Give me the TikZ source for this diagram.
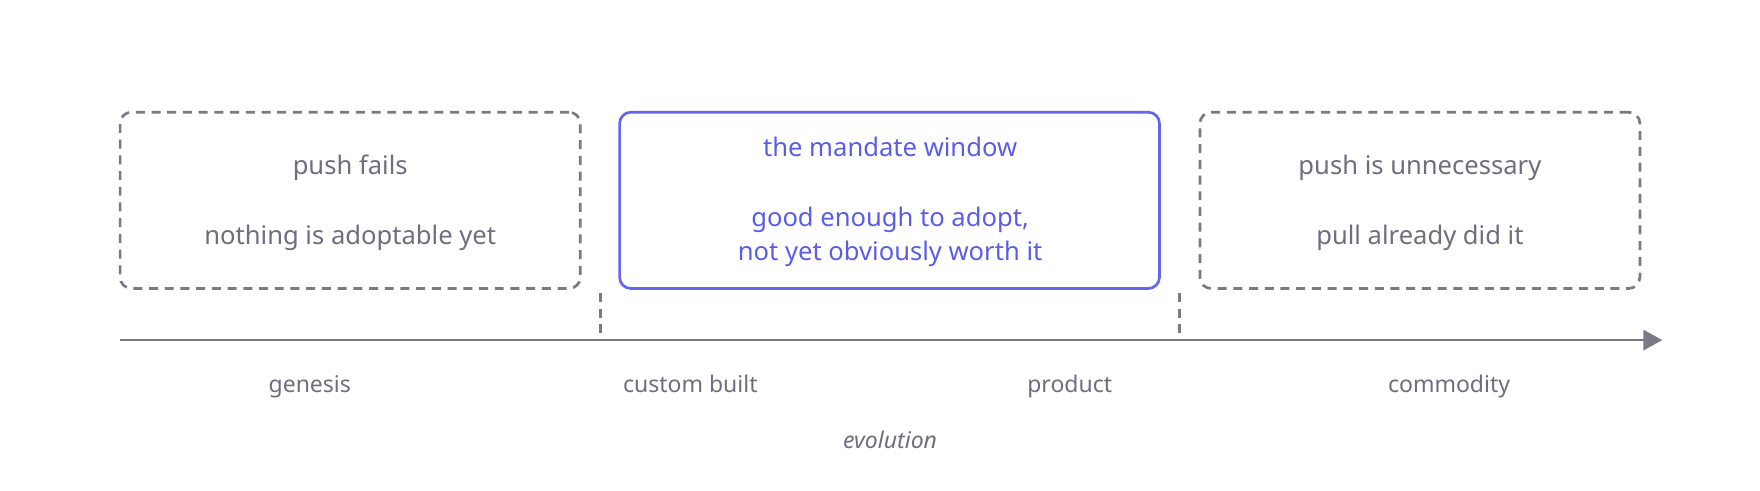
\documentclass[tikz,border=0pt]{standalone}
\usepackage{fontspec}
\setmainfont{Noto Sans}
\usetikzlibrary{arrows.meta}
\definecolor{graytx}{HTML}{6E6E7E}
\definecolor{grayln}{HTML}{7A7A86}
\definecolor{indigo}{HTML}{6366F1}
\definecolor{indigotx}{HTML}{5A5DE8}
\tikzset{
  phasebox/.style={draw=grayln, line width=2.4pt, dash pattern=on 8pt off 6pt, rounded corners=10pt, minimum width=#1, minimum height=157pt, inner sep=0pt},
  windowbox/.style={draw=indigo, line width=2.4pt, rounded corners=10pt, minimum width=#1, minimum height=157pt, inner sep=0pt},
  boxtext/.style={text=graytx, font=\fontsize{22.8}{31}\selectfont, align=center, inner sep=0pt, anchor=base},
  wintext/.style={text=indigotx, font=\fontsize{22.8}{31}\selectfont, align=center, inner sep=0pt, anchor=base},
  axislabel/.style={text=graytx, font=\fontsize{20.5}{24}\selectfont, inner sep=0pt, anchor=base},
  tick/.style={draw=grayln, line width=2.4pt, dash pattern=on 8pt off 6pt},
  axisline/.style={draw=grayln, line width=2.4pt, -{Triangle[length=17pt,width=18pt]}}
}
\begin{document}
\begin{tikzpicture}[x=1pt,y=-1pt]
\useasboundingbox (0,0) rectangle (1568,436.7);
% boxes
\node[phasebox=410pt] (b1) at (312,178.5) {};
\node[windowbox=481pt] (b2) at (792.5,178.5) {};
\node[phasebox=392pt] (b3) at (1265,178.5) {};
% texts
\node[boxtext] (t1a) at (312,155.5) {push fails};
\node[boxtext] (t1b) at (312,217.5) {nothing is adoptable yet};
\node[wintext] (t2a) at (793,139.5) {the mandate window};
\node[wintext] (t2b) at (793,232.5) {good enough to adopt,\\not yet obviously worth it};
\node[boxtext] (t3a) at (1265,155.5) {push is unnecessary};
\node[boxtext] (t3b) at (1265,217.5) {pull already did it};
% axis
\coordinate (ax0) at (107,303);
\coordinate (ax1) at (1481,303);
\draw[axisline] (ax0) -- (ax1);
\coordinate (k1a) at (535,261);
\coordinate (k1b) at (535,297);
\coordinate (k2a) at (1051,261);
\coordinate (k2b) at (1051,297);
\draw[tick] (k1a) -- (k1b);
\draw[tick] (k2a) -- (k2b);
% axis labels
\node[axislabel] (l1) at (276,350) {genesis};
\node[axislabel] (l2) at (615,350) {custom built};
\node[axislabel] (l3) at (953,350) {product};
\node[axislabel] (l4) at (1291,350) {commodity};
\node[axislabel, font=\fontsize{20.5}{24}\selectfont\itshape] (ev) at (793,400) {evolution};
\end{tikzpicture}
\end{document}
